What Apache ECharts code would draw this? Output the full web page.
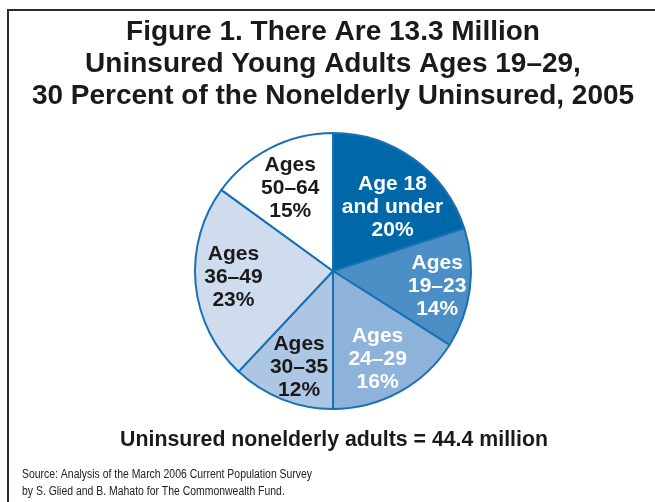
<!DOCTYPE html>
<html>
<head>
<meta charset="utf-8">
<script src="https://cdn.jsdelivr.net/npm/echarts@6/dist/echarts.min.js"></script>
<style>
  html, body { margin: 0; padding: 0; background: #ffffff; }
  #chart { width: 655px; height: 502px; }
</style>
</head>
<body>
<div id="chart"></div>
<script>
// Age groups of the uninsured nonelderly population, 2005 (percent)
const groups = ['Age 18\nand under', 'Ages\n19–23', 'Ages\n24–29', 'Ages\n30–35', 'Ages\n36–49', 'Ages\n50–64'];
const shares = [20, 14, 16, 12, 23, 15];

const titleLines = [
  'Figure 1. There Are 13.3 Million',
  'Uninsured Young Adults Ages 19–29,',
  '30 Percent of the Nonelderly Uninsured, 2005'
];
const totalNote = 'Uninsured nonelderly adults = 44.4 million';
const sourceLines = [
  'Source: Analysis of the March 2006 Current Population Survey',
  'by S. Glied and B. Mahato for The Commonwealth Fund.'
];

// Slice fills, darkest for the youngest group
const fills = ['#0068a9', '#4b8fc6', '#8db3db', '#acc6e4', '#cfdcee', '#ffffff'];
const inkColors = ['#ffffff', '#ffffff', '#ffffff', '#1a1a1a', '#1a1a1a', '#1a1a1a'];
// small hand adjustments of each slice label (px)
const labelNudge = [[-1, 20], [2, 2], [-5, -2], [4, 0], [3, -3], [4, 9]];

const FONT = '"Liberation Sans", Arial, Helvetica, sans-serif';
const center = [333, 271];

const chart = echarts.init(document.getElementById('chart'), null, { renderer: 'canvas' });

const sliceData = groups.map((g, i) => ({
  name: g,
  value: shares[i],
  itemStyle: { color: fills[i] }
}));

// Label-only ring: a larger transparent pie so that "inside" labels sit
// further out along each slice's bisector.
const labelData = groups.map((g, i) => ({
  name: g,
  value: shares[i],
  itemStyle: { color: 'rgba(0,0,0,0)' },
  label: { color: inkColors[i], offset: labelNudge[i] }
}));

chart.setOption({
  animation: false,
  backgroundColor: '#ffffff',
  graphic: [
    {
      type: 'polyline',
      shape: { points: [[655, 10], [8, 10], [8, 502]] },
      style: { stroke: '#2a2a2a', lineWidth: 2, fill: null },
      silent: true
    },
    {
      type: 'text',
      x: 333, y: 16,
      silent: true,
      style: {
        text: titleLines.join('\n'),
        font: 'bold 28px ' + FONT,
        lineHeight: 32,
        fill: '#1a1a1a',
        align: 'center',
        verticalAlign: 'top'
      }
    },
    {
      type: 'text',
      x: 334, y: 440,
      silent: true,
      style: {
        text: totalNote,
        font: 'bold 21.3px ' + FONT,
        fill: '#1a1a1a',
        align: 'center',
        verticalAlign: 'middle'
      }
    },
    {
      type: 'text',
      x: 22, y: 466,
      scaleX: 0.835,
      silent: true,
      style: {
        text: sourceLines.join('\n'),
        font: '12.5px ' + FONT,
        lineHeight: 17,
        fill: '#222222',
        align: 'left',
        verticalAlign: 'top'
      }
    }
  ],
  series: [
    {
      type: 'pie',
      center: center,
      radius: [0, 138],
      startAngle: 90,
      clockwise: true,
      silent: true,
      data: sliceData,
      label: { show: false },
      labelLine: { show: false },
      itemStyle: { borderColor: '#1a70b2', borderWidth: 2 }
    },
    {
      type: 'pie',
      center: center,
      radius: [0, 200],
      startAngle: 90,
      clockwise: true,
      silent: true,
      z: 5,
      data: labelData,
      labelLine: { show: false },
      itemStyle: { borderWidth: 0 },
      label: {
        show: true,
        position: 'inside',
        formatter: p => p.name + '\n' + p.value + '%',
        fontFamily: FONT,
        fontWeight: 'bold',
        fontSize: 21,
        lineHeight: 23,
        align: 'center'
      }
    }
  ]
});
</script>
</body>
</html>
